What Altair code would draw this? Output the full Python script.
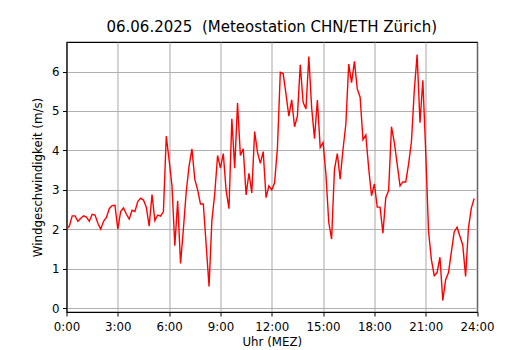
import altair as alt
import pandas as pd

# 10-minute wind speed values (m/s), 00:00 .. 23:50
wind = [
    2.0, 2.08, 2.34, 2.34, 2.2, 2.28, 2.34, 2.31, 2.2, 2.38, 2.36, 2.15,
    2.0, 2.2, 2.3, 2.52, 2.6, 2.61, 2.0, 2.45, 2.54, 2.38, 2.26, 2.48,
    2.45, 2.7, 2.79, 2.74, 2.56, 2.08, 2.88, 2.22, 2.36, 2.33, 2.45, 4.36,
    3.75, 3.1, 1.58, 2.72, 1.13, 2.0, 2.95, 3.6, 4.04, 3.27, 3.0, 2.64,
    2.64, 1.6, 0.55, 2.22, 2.9, 3.87, 3.55, 3.92, 2.98, 2.52, 4.8, 3.55,
    5.2, 3.87, 4.04, 2.87, 3.42, 2.92, 4.48, 3.95, 3.67, 3.97, 2.8, 3.1,
    3.0, 3.18, 4.07, 5.98, 5.95, 5.43, 4.87, 5.28, 4.6, 4.87, 6.17, 5.22,
    5.05, 6.38, 5.08, 4.3, 5.28, 4.07, 4.2, 3.4, 2.17, 1.75, 3.52, 3.92,
    3.27, 4.03, 4.67, 6.19, 5.72, 6.26, 5.56, 5.35, 4.27, 4.39, 3.55, 2.85,
    3.15, 2.56, 2.56, 1.9, 2.8, 2.98, 4.6, 4.2, 3.65, 3.1, 3.2, 3.2,
    3.65, 4.22, 5.52, 6.43, 4.7, 5.78, 3.98, 1.95, 1.23, 0.82, 0.9, 1.29,
    0.19, 0.72, 0.9, 1.42, 1.93, 2.05, 1.82, 1.6, 0.8, 2.03, 2.53, 2.78,
]
hours = [i / 6 for i in range(len(wind))]
x_ticks = [0, 3, 6, 9, 12, 15, 18, 21, 24]
y_ticks = [0, 1, 2, 3, 4, 5, 6]

df = pd.DataFrame({"h": hours, "v": wind})

FONT = "DejaVu Sans"

chart = alt.Chart(df).mark_line(color="#ff0000", strokeWidth=1.4, clip=True).encode(
    x=alt.X(
        "h:Q",
        scale=alt.Scale(domain=[0, 24], nice=False, zero=False),
        axis=alt.Axis(
            values=x_ticks,
            labelExpr="datum.value + ':00'",
            labelOverlap=False,
            labelFlush=False,
            labelPadding=5,
            title="Uhr (MEZ)",
            titlePadding=4,
        ),
    ),
    y=alt.Y(
        "v:Q",
        scale=alt.Scale(domain=[-0.1, 6.75], nice=False, zero=False),
        axis=alt.Axis(
            values=y_ticks,
            labelOverlap=False,
            title="Windgeschwindigkeit (m/s)",
            titlePadding=8,
        ),
    ),
).properties(
    width=410.5,
    height=270,
    autosize=alt.AutoSizeParams(type="none"),
    padding={"left": 58.5, "top": 34, "right": 45, "bottom": 38},
    title=alt.Title(
        "06.06.2025\u00a0\u00a0(Meteostation CHN/ETH Zürich)",
        font=FONT,
        fontSize=15,
        fontWeight="normal",
        color="black",
        offset=7,
        anchor="middle",
    ),
).configure_view(
    stroke="black", strokeWidth=1.1
).configure_axis(
    labelFont=FONT,
    titleFont=FONT,
    labelFontSize=11.8,
    titleFontSize=11.8,
    titleFontWeight="normal",
    labelColor="black",
    titleColor="black",
    domainColor="black",
    tickColor="black",
    tickSize=4,
    tickWidth=1,
    labelPadding=3.5,
    gridColor="#b0b0b0",
    gridWidth=1.1,
    gridOpacity=1,
    grid=True,
)

chart.save("out.html", embed_options={"renderer": "svg", "actions": False})
